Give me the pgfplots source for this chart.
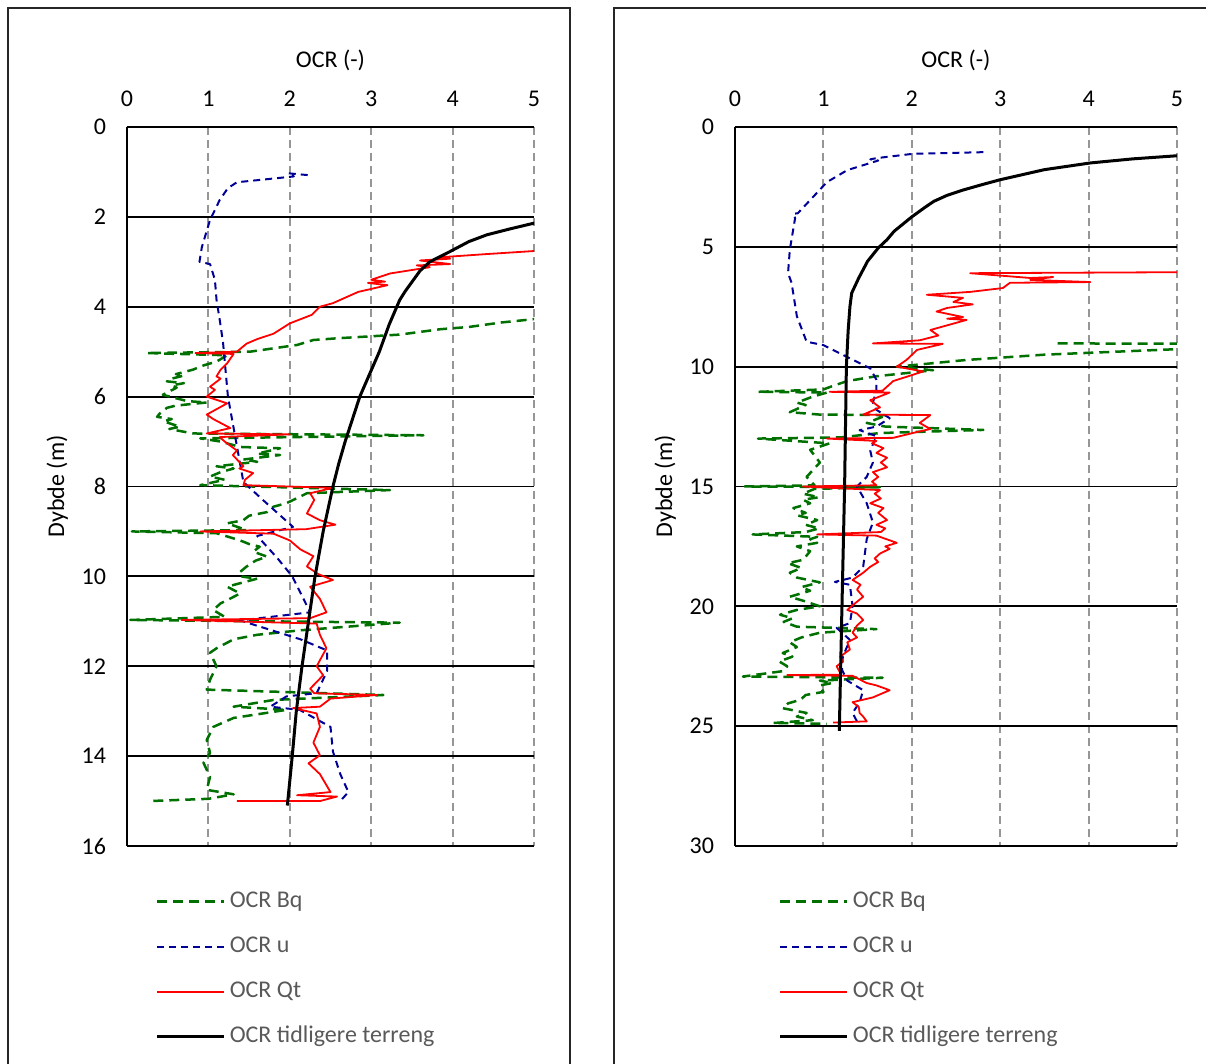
\documentclass[border=0pt]{standalone}
\usepackage{fontspec}
\setmainfont{Carlito}
\usepackage{pgfplots}
\pgfplotsset{compat=1.18}

\definecolor{bqgreen}{RGB}{0,112,0}
\definecolor{ublue}{RGB}{0,0,150}
\definecolor{qtred}{RGB}{255,0,0}
\definecolor{gridgray}{RGB}{150,150,150}
\definecolor{legtext}{RGB}{89,89,89}

\pgfplotsset{
  ocrpanel/.style={
    scale only axis,
    height=359.5pt,
    y dir=reverse,
    axis x line=top,
    axis y line=left,
    axis line style={-, line width=1pt},
    xmin=0, xmax=5, xtick={0,1,...,5},
    ymin=0,
    xmajorgrids, ymajorgrids,
    x grid style={gridgray, line width=1pt, dash pattern=on 4pt off 2.5pt},
    y grid style={black, line width=0.9pt},
    major tick length=0pt,
    tick label style={font=\fontsize{12}{14}\selectfont},
    label style={font=\fontsize{12}{14}\selectfont},
    xticklabel shift=6.5pt,
    yticklabel shift=7pt,
    xlabel shift=3.5pt,
    /pgf/number format/assume math mode=true,
    xlabel={OCR (-)},
    ylabel={Dybde (m)},
    no markers,
    legend cell align=left,
    legend style={draw=none, fill=none, font=\fontsize{12}{14}\selectfont,
      text=legtext, anchor=north west, row sep=6.5pt,
      nodes={inner sep=2pt, text height=9pt, text depth=3pt}},
    legend image code/.code={\draw[##1] (0pt,0pt) -- (33.5pt,0pt);},
  },
  bq/.style={bqgreen, line width=1.25pt, dash pattern=on 5pt off 3pt, line join=round},
  ou/.style={ublue, line width=1pt, dash pattern=on 3.5pt off 2.5pt, line join=round},
  qt/.style={qtred, line width=0.9pt, line join=round},
  tt/.style={black, line width=1.5pt, line join=round},
}

\begin{document}
\begin{tikzpicture}
\useasboundingbox (0,0) rectangle (603pt,532pt);

% ---------------- left panel ----------------
\begin{axis}[ocrpanel,
  width=203.5pt,
  at={(63.5pt,468.5pt)}, anchor=north west,
  ymax=16, ytick={0,2,...,16},
  legend style={at={(0.055,-0.049)}},
]
% OCR Bq
\addplot[bq] coordinates {
 (5.3,4.22)(4.6,4.35)(4.2,4.45)(3.85,4.5)(3.35,4.62)(2.6,4.7)(2.29,4.74)(2.09,4.85)
 (1.51,5.0)(0.24,5.03)(1.23,5.08)(1.1,5.22)(0.95,5.3)(0.81,5.4)(0.6,5.5)(0.7,5.53)
 (0.55,5.6)(0.49,5.66)(0.7,5.7)(0.55,5.75)(0.61,5.8)(0.44,5.96)(0.74,6.1)(0.98,6.13)
 (0.6,6.2)(0.49,6.25)(0.4,6.38)(0.37,6.45)(0.55,6.5)(0.45,6.55)(0.65,6.67)(0.52,6.72)
 (0.81,6.82)(3.64,6.86)(0.9,6.93)(1.15,7.0)(1.39,7.12)(1.88,7.15)(1.6,7.27)(1.88,7.3)
 (1.43,7.4)(1.6,7.45)(1.1,7.55)(1.31,7.6)(1.15,7.68)(1.02,7.78)(1.2,7.85)(0.9,7.97)
 (3.23,8.08)(2.21,8.15)(2.1,8.25)(1.96,8.37)(1.8,8.45)(1.72,8.57)(1.5,8.65)(1.43,8.75)
 (1.23,8.82)(1.47,8.97)(0.06,9.0)(1.1,9.04)(1.39,9.2)(1.5,9.28)(1.63,9.34)(1.55,9.45)
 (1.72,9.56)(1.58,9.65)(1.47,9.78)(1.39,9.9)(1.39,10.0)(1.6,10.05)(1.23,10.23)(1.39,10.38)
 (1.23,10.53)(1.15,10.6)(1.06,10.75)(1.2,10.9)(0.04,10.97)(3.35,11.03)(2.13,11.2)(1.6,11.3)
 (1.31,11.4)(1.1,11.6)(1.02,11.7)(1.1,12.0)(1.02,12.3)(0.98,12.52)(3.15,12.64)(1.8,12.75)
 (1.31,12.9)(1.96,12.97)(1.31,13.15)(1.06,13.35)(0.98,13.64)(1.02,13.93)(0.94,14.15)
 (1.02,14.46)(0.98,14.75)(1.31,14.85)(1.0,14.95)(0.28,15.0)
};
\addlegendentry{OCR Bq}
% OCR u
\addplot[ou] coordinates {
 (2.22,1.07)(1.98,1.03)(2.05,1.1)(1.35,1.23)(1.24,1.36)(1.14,1.62)(1.02,2.07)(0.92,2.67)
 (0.89,3.0)(1.02,3.05)(1.08,3.4)(1.1,3.85)(1.14,4.3)(1.18,4.8)(1.24,6.0)(1.3,6.6)
 (1.43,7.9)(1.67,8.3)(2.04,8.9)(1.6,9.1)(1.85,9.6)(2.03,10.0)(2.25,10.8)(1.39,10.98)
 (2.13,11.4)(2.46,11.65)(2.46,12.1)(2.33,12.6)(1.96,12.67)(1.76,12.9)(2.12,12.97)
 (2.5,13.35)(2.53,13.9)(2.62,14.4)(2.72,14.8)(2.62,15.0)
};
\addlegendentry{OCR u}
% OCR Qt
\addplot[qt] coordinates {
 (5.5,2.72)(5.0,2.76)(4.4,2.83)(3.84,2.9)(3.97,2.93)(3.6,2.97)(3.97,3.05)(3.56,3.08)
 (3.72,3.12)(3.51,3.18)(3.23,3.26)(3.0,3.4)(3.17,3.44)(2.96,3.47)(3.2,3.52)(2.84,3.67)
 (2.53,3.92)(2.37,4.0)(2.27,4.18)(2.0,4.37)(1.8,4.6)(1.6,4.72)(1.47,4.82)(1.35,5.0)
 (0.84,5.03)(1.31,5.05)(1.23,5.26)(1.15,5.4)(1.1,5.55)(1.15,5.6)(1.02,5.78)(1.08,5.85)
 (0.98,6.0)(1.23,6.15)(0.98,6.4)(1.06,6.5)(1.27,6.7)(0.98,6.82)(2.0,6.84)(1.14,6.9)
 (1.2,7.0)(1.35,7.2)(1.3,7.3)(1.43,7.55)(1.38,7.6)(1.55,7.7)(1.45,7.85)(1.43,7.97)
 (2.53,8.03)(2.25,8.15)(2.3,8.3)(2.21,8.6)(2.37,8.75)(2.56,8.85)(2.2,8.95)(0.9,9.0)
 (1.8,9.05)(2.0,9.2)(2.13,9.4)(2.29,9.55)(2.21,9.78)(2.35,9.95)(2.53,10.08)(2.25,10.23)
 (2.37,10.5)(2.45,10.8)(2.25,10.93)(0.67,10.97)(2.33,11.05)(2.37,11.3)(2.45,11.6)
 (2.33,12.0)(2.41,12.2)(2.25,12.5)(2.3,12.6)(3.07,12.64)(2.5,12.72)(2.37,12.9)(2.04,12.93)
 (2.33,13.05)(2.37,13.35)(2.29,13.7)(2.37,13.98)(2.23,14.16)(2.37,14.4)(2.5,14.8)
 (2.09,14.87)(2.58,14.9)(2.37,15.0)(1.35,15.0)
};
\addlegendentry{OCR Qt}
% OCR tidligere terreng
\addplot[tt] coordinates {
 (5.5,1.97)(5.0,2.14)(4.7,2.27)(4.42,2.4)(4.2,2.55)(3.97,2.77)(3.85,2.88)(3.72,3.0)
 (3.6,3.2)(3.5,3.45)(3.42,3.65)(3.35,3.85)(3.22,4.4)(3.1,5.0)(2.98,5.5)(2.86,6.0)
 (2.77,6.5)(2.68,7.0)(2.6,7.5)(2.53,8.0)(2.47,8.5)(2.41,9.0)(2.36,9.5)(2.31,10.0)
 (2.23,11.0)(2.15,12.0)(2.08,13.0)(2.03,14.0)(1.97,15.1)
};
\addlegendentry{OCR tidligere terreng}
\end{axis}

% ---------------- right panel ----------------
\begin{axis}[ocrpanel,
  width=221pt,
  at={(367.5pt,468.5pt)}, anchor=north west,
  ymax=30, ytick={0,5,...,30},
  legend style={at={(0.085,-0.049)}},
]
% OCR Bq
\addplot[bq] coordinates {
 (3.65,9.03)(6,9.05)(6,9.22)(5,9.27)(3.5,9.5)(2.62,9.72)(1.83,10.0)(2.24,10.15)(1.6,10.4)
 (1.27,10.6)(1.11,10.8)(1.0,10.95)(0.26,11.05)(1.04,11.08)(0.88,11.25)(0.7,11.5)(0.8,11.6)
 (0.62,11.9)(0.96,12.0)(1.72,12.02)(1.49,12.35)(1.7,12.5)(2.81,12.64)(1.64,12.77)(1.2,12.95)
 (0.26,13.0)(1.07,13.2)(0.85,13.47)(0.96,14.0)(0.81,14.6)(0.9,14.95)
 (0.11,15.0)(1.64,15.03)(0.9,15.1)(0.77,15.3)(0.95,15.45)(0.77,15.55)(0.85,15.7)(0.66,15.9)
 (0.8,16.1)(0.7,16.2)(0.93,16.4)(0.8,16.6)(0.95,16.75)(0.8,16.9)(0.2,17.0)(0.93,17.1)
 (0.85,17.2)(0.93,17.35)(0.7,17.5)(0.85,17.7)(0.77,18.06)(0.6,18.2)(0.75,18.4)(0.62,18.6)
 (0.7,18.8)(0.96,19.0)(0.75,19.2)(0.85,19.35)(0.62,19.6)(0.8,19.8)(0.96,20.0)(0.7,20.15)
 (0.51,20.35)(0.65,20.5)(0.55,20.65)(0.7,20.85)(1.6,20.95)(0.96,21.1)(0.75,21.3)(0.62,21.5)
 (0.7,21.7)(0.54,21.95)(0.65,22.1)(0.5,22.3)(0.59,22.5)(0.55,22.7)(0.09,22.93)(1.67,22.98)
 (0.96,23.1)(1.1,23.2)(0.96,23.3)(1.0,23.57)(0.8,23.7)(0.74,23.9)(0.6,24.05)(0.54,24.25)
 (0.81,24.45)(0.7,24.6)(0.88,24.75)(0.43,24.87)(1.04,24.9)
};
\addlegendentry{OCR Bq}
% OCR u
\addplot[ou] coordinates {
 (2.81,1.05)(2.01,1.12)(1.6,1.3)(1.53,1.35)(1.62,1.4)(1.27,1.8)(1.04,2.3)(0.85,3.05)
 (0.71,3.6)(0.66,3.62)(0.68,3.8)(0.62,5.13)(0.6,6.1)(0.64,6.5)(0.7,7.9)(0.81,8.96)
 (1.0,9.1)(1.27,9.6)(1.53,10.07)(1.6,10.55)(1.6,11.0)(1.56,11.5)(1.6,11.8)(1.75,12.15)
 (1.6,12.5)(1.41,12.65)(1.6,12.9)(1.53,13.5)(1.56,14.0)(1.49,14.6)(1.38,15.0)(1.49,15.7)
 (1.56,16.5)(1.49,17.2)(1.45,18.35)(1.33,18.8)(1.13,18.98)(1.3,19.1)(1.33,20.0)(1.3,20.7)
 (1.15,20.9)(1.3,21.4)(1.22,22.1)(1.21,22.65)(1.27,23.1)(1.45,23.5)(1.41,24.0)(1.33,24.45)
 (1.38,24.8)
};
\addlegendentry{OCR u}
% OCR Qt
\addplot[qt] coordinates {
 (5.5,6.05)(2.66,6.1)(3.34,6.3)(3.6,6.26)(3.34,6.38)(4.02,6.47)(3.11,6.5)(3.03,6.72)
 (2.66,6.88)(2.17,7.0)(2.58,7.13)(2.47,7.3)(2.69,7.4)(2.4,7.55)(2.28,7.7)(2.58,7.93)
 (2.4,8.0)(2.62,8.05)(2.21,8.47)(2.3,8.7)(2.09,8.9)(1.56,9.03)(2.35,9.05)(2.06,9.3)
 (1.94,9.72)(1.83,10.0)(2.13,10.2)(1.79,10.6)(1.67,11.0)(1.07,11.05)(1.75,11.08)(1.53,11.4)
 (1.64,11.7)(1.45,12.0)(2.21,12.02)(2.09,12.35)(2.21,12.6)(2.01,12.77)(1.79,12.97)
 (1.04,13.0)(1.6,13.1)(1.55,13.2)(1.68,13.4)(1.6,13.6)(1.72,13.8)(1.65,14.0)(1.72,14.2)
 (1.56,14.4)(1.62,14.6)(1.55,14.8)(1.6,14.95)(0.77,15.0)(1.64,15.15)(1.58,15.3)(1.65,15.5)
 (1.53,15.7)(1.68,15.9)(1.62,16.1)(1.72,16.4)(1.6,16.6)(1.7,16.75)(1.65,16.9)(0.93,17.0)
 (1.6,17.05)(1.83,17.35)(1.7,17.5)(1.75,17.6)(1.64,17.8)(1.58,18.0)(1.62,18.15)(1.53,18.35)
 (1.45,18.6)(1.33,18.9)(1.42,19.1)(1.38,19.3)(1.45,19.6)(1.35,19.9)(1.27,20.15)(1.38,20.3)
 (1.45,20.57)(1.38,20.8)(1.33,21.1)(1.38,21.3)(1.27,21.5)(1.3,21.8)(1.19,22.1)(1.22,22.3)
 (1.15,22.5)(1.2,22.85)(0.59,22.87)(1.33,22.9)(1.49,23.2)(1.6,23.3)(1.75,23.5)(1.56,23.8)
 (1.33,24.0)(1.4,24.2)(1.41,24.45)(1.45,24.6)(1.49,24.8)(1.11,24.85)
};
\addlegendentry{OCR Qt}
% OCR tidligere terreng
\addplot[tt] coordinates {
 (5.5,1.05)(5.0,1.2)(4.5,1.33)(4.02,1.5)(3.5,1.78)(3.0,2.2)(2.8,2.4)(2.58,2.63)(2.4,2.85)
 (2.25,3.1)(2.15,3.35)(2.0,3.75)(1.9,4.05)(1.8,4.35)(1.72,4.7)(1.62,5.05)(1.5,5.6)
 (1.4,6.3)(1.32,6.93)(1.3,7.5)(1.28,8.5)(1.26,10.0)(1.24,15.0)(1.21,20.0)(1.18,25.2)
};
\addlegendentry{OCR tidligere terreng}
\end{axis}

% chart area frames
\begin{scope}
\clip (0,0) rectangle (603pt,532pt);
\draw[black!85, line width=0.8pt] (4pt,-10pt) -- (4pt,528pt) -- (285pt,528pt) -- (285pt,-10pt);
\draw[black!85, line width=0.8pt] (307pt,-10pt) -- (307pt,528pt) -- (620pt,528pt);
\end{scope}
\end{tikzpicture}
\end{document}
